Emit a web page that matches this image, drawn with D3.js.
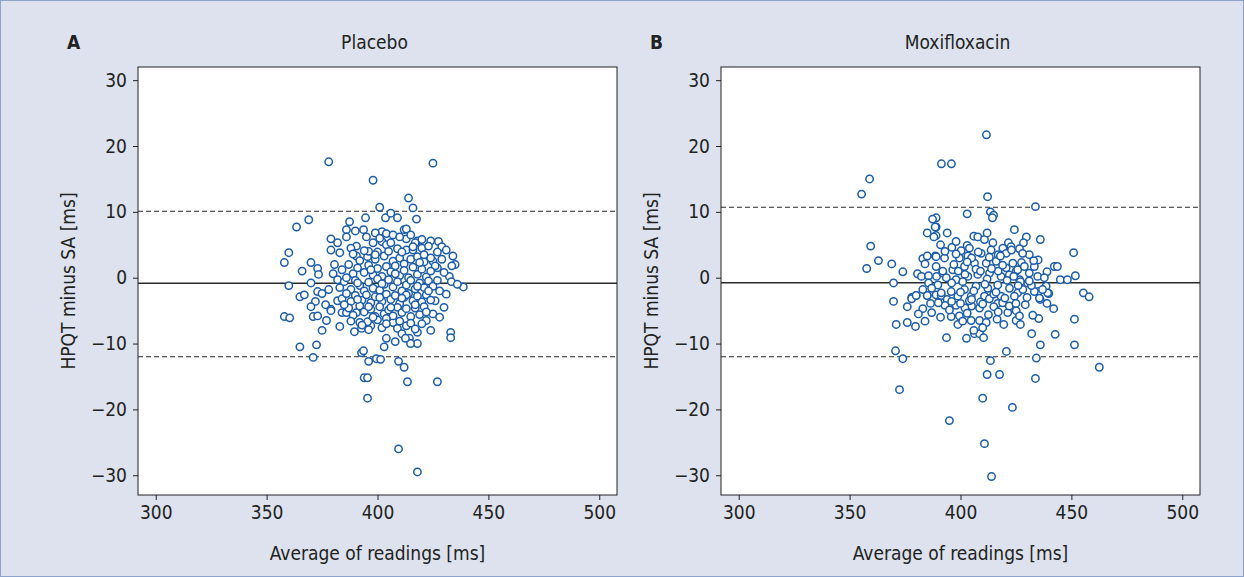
<!DOCTYPE html>
<html><head><meta charset="utf-8">
<script src="https://cdn.jsdelivr.net/npm/d3@7"></script>
<style>
html,body{margin:0;padding:0;background:#dde2ee;}
svg{display:block;}
text{font-family:"Liberation Sans Narrow","DejaVu Sans Condensed","Liberation Sans",sans-serif;fill:#222;}
</style></head>
<body>
<svg id="chart" width="1244" height="577"></svg>
<script>
// ---- data ----
const panelLetters = ["A", "B"];
const panelTitles = ["Placebo", "Moxifloxacin"];
const xTicks = [300, 350, 400, 450, 500];
const yTicks = [-30, -20, -10, 0, 10, 20, 30];
const xLabel = "Average of readings [ms]";
const yLabel = "HPQT minus SA [ms]";

const placeboMean = -0.85, placeboUpper = 10.1, placeboLower = -12.0;
const moxiMean = -0.76, moxiUpper = 10.7, moxiLower = -12.0;

const placeboAvg = [378,425,398,414,416,401,369,363.5,403.6,406,409,394.6,387.4,417.6,386,390,393.7,402,404,407,412,413,413,390.5,398,402,404,406,409,390.5,386,395.5,400,413,418,420,424,427.5,429,416,420,423,427,434,435,433.5,438.7,432.4,433.3,360,358,370,373,373.4,379,382,379,383,380.6,380,382,360,370,365,367,373,375,378,372,376.6,370,379,382,358,360.4,365,372.5,371,371,373,379,383,384,392.8,393.7,396,399.5,401.4,409.5,412,413.5,394,395.5,395.5,409.5,427,418,433,433,418,418,414.4,414.9,389.6,392.8,397,404,403,408,407,409,411,412.6,392,395.5,386,390.5,430,428,426,430,425,422,428,424,420,436,431,427,429,425,431,388,392,396,399,403,407,410,412,415,418,421,424,426,384,387,389,391,394,396,398,400,402,404,406,408,410,412,414,416,418,420,422,424,419,383,385,388,390,392,394,396,398,400,401,403,405,407,409,411,413,415,417,419,421,423,425,427,384,386,388,390,393,395,397,399,402,404,406,408,410,412,414,416,418,420,422,424,387,389,392,394,397,399,401,403,405,407,409,411,413,415,417,419,421,396,400,402,404,410,413,415,417,395,399,401,410,415,417,366,377,375,386,391,397,402,408,413,418,423,389,394,399,405,411,416,421,385,391,396,401,406,411,417,422,388,393,398,404];
const placeboDiff = [17.6,17.4,14.8,12.1,10.6,10.7,8.8,7.7,9.1,9.8,9.1,9.1,8.5,8.9,7.3,7.1,7.3,7.0,6.7,6.5,7.3,7.4,5.9,4.8,5.3,5.5,5.0,5.3,4.4,3.3,6.2,3.2,3.9,4.2,5.6,5.8,5.6,5.5,4.7,4.2,4.5,4.8,3.9,3.3,2.0,1.8,-1.4,0.2,-0.6,3.8,2.3,2.3,1.4,0.5,5.9,5.3,4.2,3.8,2.0,0.6,-0.3,-1.2,-0.8,-2.9,-2.6,-2.1,-2.4,-1.8,-3.6,-4.1,-4.4,-4.8,-3.5,-5.9,-6.1,-10.5,-10.2,-12.1,-5.9,-5.8,-5.0,-7.4,-5.3,-11.4,-11.1,-12.7,-12.3,-12.4,-12.7,-13.6,-15.8,-15.2,-15.2,-18.3,-26,-15.8,-29.5,-8.3,-9.1,-8.3,-10,-9.2,-10,-8.2,-7.7,-7.3,-9.2,-10.5,-9.7,-6.8,-7.7,-8.5,-9.2,-6.8,-6.7,-5.3,-5.3,0.8,-2,-3.5,-4.5,-5.5,-6.5,-6,-8,-7,-1.0,-2.5,1.5,2.8,2.5,4.2,4.5,2.6,4.0,2.8,3.3,2.5,3.0,2.1,2.8,3.2,2.4,3.0,1.8,1.2,2.0,0.6,1.5,0.8,1.9,0.4,1.4,0.2,1.7,0.9,1.8,0.3,1.1,0.0,1.6,0.5,1.3,0.1,1.0,2.3,-1.5,-0.6,-1.8,-0.4,-1.2,-2.0,-0.7,-1.6,-0.2,-1.9,-1.0,-0.3,-1.4,-0.6,-2.0,-1.1,-0.4,-1.7,-0.8,-1.5,-0.5,-1.3,-0.4,-3.2,-2.4,-3.6,-2.7,-3.4,-2.6,-3.8,-2.9,-3.6,-2.5,-3.3,-2.7,-3.9,-3.0,-2.4,-3.5,-2.8,-3.7,-2.6,-3.4,-4.6,-5.7,-4.3,-5.2,-4.8,-5.9,-4.4,-5.5,-4.9,-5.8,-4.5,-5.3,-4.7,-5.9,-4.6,-5.6,-4.4,-7.9,-6.4,-7.6,-6.2,-6.6,-7.3,-6.9,-7.8,6.2,6.8,6.0,6.2,6.5,5.3,1.0,-6.5,-8.0,0.0,-0.8,1.2,-0.9,0.6,-2.6,-1.3,-2.0,3.6,4.1,3.5,4.0,3.9,4.7,3.5,-4.1,-3.3,-4.4,-3.0,-4.5,-3.1,-4.1,-5.2,-6.6,-7.2,-6.0,-7.0];

const moxiAvg = [411.7,391.4,395.9,412.2,403,413.5,414.9,414.4,424.3,389,389,389,359,355.4,387.4,385,388,388.6,359.5,363,357.7,369,374,369.8,383,385,388.7,384,380.6,382.4,385.6,385.6,389.2,380,385,378,433.8,436,429.7,428.4,426.6,451,431,435,427.5,442.3,443.7,439,451.8,445,448.2,455.4,458,369.8,378,380,376,385,386.5,383,389,371,376,379.7,370.7,374,372.5,393.7,402.7,406.3,408.6,410.4,420.7,413.5,412,417.6,410,423.4,395,410.8,414,395.8,398.8,404.8,408.6,411.6,416.5,419.5,421.3,425.1,425.1,416.8,415,412.6,408.6,405,402,398,399.5,391.3,394,451.4,442.7,451.4,432.1,436,434.2,433.8,462.6,442,439,435.3,432.6,429.2,426.6,427,435.9,439.8,435.1,396.1,400.3,406,407.8,410.8,414.6,419.1,421.6,422.8,420.6,413.8,409.3,403.3,399.5,392.8,389,389,392,396.5,401.8,406.3,411.6,416.1,420.6,423.6,425.1,418.3,413.1,407.8,403.3,398,393.6,389.8,395.8,401.8,407,412.3,416.8,422.1,425.8,391.3,398.8,404.8,410.8,418.3,424.3,425.8,428.8,431,433.3,426.6,430.3,434.8,437.8,438.6,439.3,433.3,428.1,435.6,396,400,404,409,413,419,422,403,417,410,406,401,398,403,417,412,405,383,387,381,387,391,393,384,391,394,392,397,402,407,412,417,422,427,432,437,390,395,400,405,410,415,420,425,430,393,398,403,408,413,418,423,428,433,396,401,406,411,416,421,426,431,399,404,409,414,419,424];
const moxiDiff = [21.7,17.3,17.3,12.3,9.7,10,9.5,9.1,7.3,9.1,7.7,6.4,15,12.7,8.9,6.8,6.2,7.7,4.8,2.6,1.4,2.1,0.9,-0.8,2.9,3.3,3.3,2.1,0.6,0.2,0.3,-0.8,0.2,-2.7,-2.7,-3,10.8,5.8,6.2,5.3,4.4,3.8,3.5,2.7,2.3,1.7,1.7,0.9,0.3,-0.3,-0.3,-2.3,-2.9,-3.6,-3.2,-2.7,-4.4,-2.7,-3.9,-4.7,-2.6,-7.1,-6.8,-7.4,-11.1,-12.3,-17,-9.1,-9.2,-8.5,-8.5,-9.1,-11.2,-12.6,-14.7,-14.7,-18.3,-19.7,-21.7,-25.2,-30.2,-5.9,-7.1,-6.5,-6.5,-6.8,-6.3,-7.1,-5.3,-6.5,-5.0,-3.9,-4.4,-5.6,-4.6,-4.3,-4.6,-4.2,-5.8,-2.7,-3.3,-6.3,-8.6,-10.2,-8.5,-10.2,-12.2,-15.3,-13.6,-4.7,-3.9,-6.2,-5.7,-4.1,-5.8,-7.1,-3.3,-2.4,-2.1,4.6,4.1,6.3,6.2,5.8,5.3,4.5,5.3,4.7,3.7,4.2,3.7,3.3,3.0,3.0,3.2,1.7,0.7,1.2,1.7,2.2,2.2,2.5,1.5,2.2,1.0,0.2,0.7,0.5,0.2,-0.3,0.0,-1.1,-2.1,-1.8,-1.3,-1.6,-1.1,-1.6,-2.3,-2.3,-2.8,-2.8,-2.8,-2.8,-2.8,1.2,1.7,0.7,1.7,-0.3,-0.8,0.2,0.0,-1.3,-2.3,-2.1,-1.8,-3.1,-3.6,-3.9,-3.5,-3.7,-3.2,-3.8,-4.3,-5.4,-5.2,-7.6,-8.0,-6.6,5.5,4.9,3.5,6.8,3.0,-1.8,-1.6,-5.5,-5.3,-6.0,-4.2,-6.6,5.0,6.8,1.0,2.0,0.5,1.3,-0.2,1.0,0.4,-0.6,-1.2,-1.8,-3.8,-4.9,-2.2,-3.3,-4.0,-2.5,-3.1,-3.9,-3.0,4.0,3.6,2.4,3.9,3.1,3.3,4.2,3.7,2.6,-0.8,-0.6,-2.0,-1.0,-2.2,-0.4,-1.2,-0.5,1.0,4.5,1.0,1.4,1.9,0.2];

// ---- drawing ----
const svg = d3.select("#chart");
svg.append("rect").attr("x",0.5).attr("y",0.5).attr("width",1243).attr("height",576)
  .attr("fill","#dde2ee").attr("stroke","#8ea3cc").attr("stroke-width",1);

const panels = [
  {left:138, avg:placeboAvg, diff:placeboDiff, mean:placeboMean, up:placeboUpper, lo:placeboLower},
  {left:721, avg:moxiAvg, diff:moxiDiff, mean:moxiMean, up:moxiUpper, lo:moxiLower}
];
const plotTop = 67, plotBottom = 495, plotWidth = 479;

panels.forEach((p, i) => {
  const x = d3.scaleLinear().domain([292, 508]).range([p.left, p.left + plotWidth]);
  const y = d3.scaleLinear().domain([-33, 32]).range([plotBottom, plotTop]);
  const g = svg.append("g");

  g.append("rect").attr("x", p.left).attr("y", plotTop).attr("width", plotWidth).attr("height", plotBottom - plotTop)
    .attr("fill", "#fff");

  const lines = [{v:p.mean, dash:null, w:1.4}, {v:p.up, dash:"5,3", w:1.1}, {v:p.lo, dash:"5,3", w:1.1}];
  lines.forEach(l => {
    g.append("line").attr("x1", p.left).attr("x2", p.left + plotWidth)
      .attr("y1", y(l.v)).attr("y2", y(l.v))
      .attr("stroke", "#2a2a2a").attr("stroke-width", l.w)
      .attr("stroke-dasharray", l.dash);
  });

  const pts = p.avg.map((a, k) => [a, p.diff[k]]);
  g.selectAll("circle.pt").data(pts).enter().append("circle")
    .attr("class", "pt")
    .attr("cx", d => x(d[0])).attr("cy", d => y(d[1])).attr("r", 3.7)
    .attr("fill", "#fff").attr("stroke", "#1b5ca8").attr("stroke-width", 1.5);

  g.append("rect").attr("x", p.left).attr("y", plotTop).attr("width", plotWidth).attr("height", plotBottom - plotTop)
    .attr("fill", "none").attr("stroke", "#222").attr("stroke-width", 1);

  const fmt = d => d < 0 ? "\u2212" + Math.abs(d) : String(d);
  const xa = g.append("g").attr("transform", `translate(0,${plotBottom})`)
    .call(d3.axisBottom(x).tickValues(xTicks).tickSize(5).tickPadding(6).tickFormat(fmt));
  const ya = g.append("g").attr("transform", `translate(${p.left},0)`)
    .call(d3.axisLeft(y).tickValues(yTicks).tickSize(5).tickPadding(6).tickFormat(fmt));
  [xa, ya].forEach(a => {
    a.select(".domain").remove();
    a.selectAll("line").attr("stroke", "#222");
    a.selectAll("text").style("font-size", "19px").attr("fill", "#222")
      .style("font-family", '"Liberation Sans Narrow","DejaVu Sans Condensed",sans-serif');
  });

  g.append("text").attr("x", p.left + plotWidth / 2).attr("y", 560).attr("text-anchor", "middle")
    .style("font-size", "19px").text(xLabel);
  g.append("text").attr("transform", `translate(${p.left - 63},${(plotTop + plotBottom) / 2}) rotate(-90)`)
    .attr("text-anchor", "middle").style("font-size", "19px").text(yLabel);
  g.append("text").attr("x", p.left + plotWidth / 2 - 3).attr("y", 49).attr("text-anchor", "middle")
    .style("font-size", "19px").text(panelTitles[i]);
  g.append("text").attr("x", p.left - 71).attr("y", 49)
    .style("font-size", "19px").style("font-weight", "bold").text(panelLetters[i]);
});
</script>
</body></html>
